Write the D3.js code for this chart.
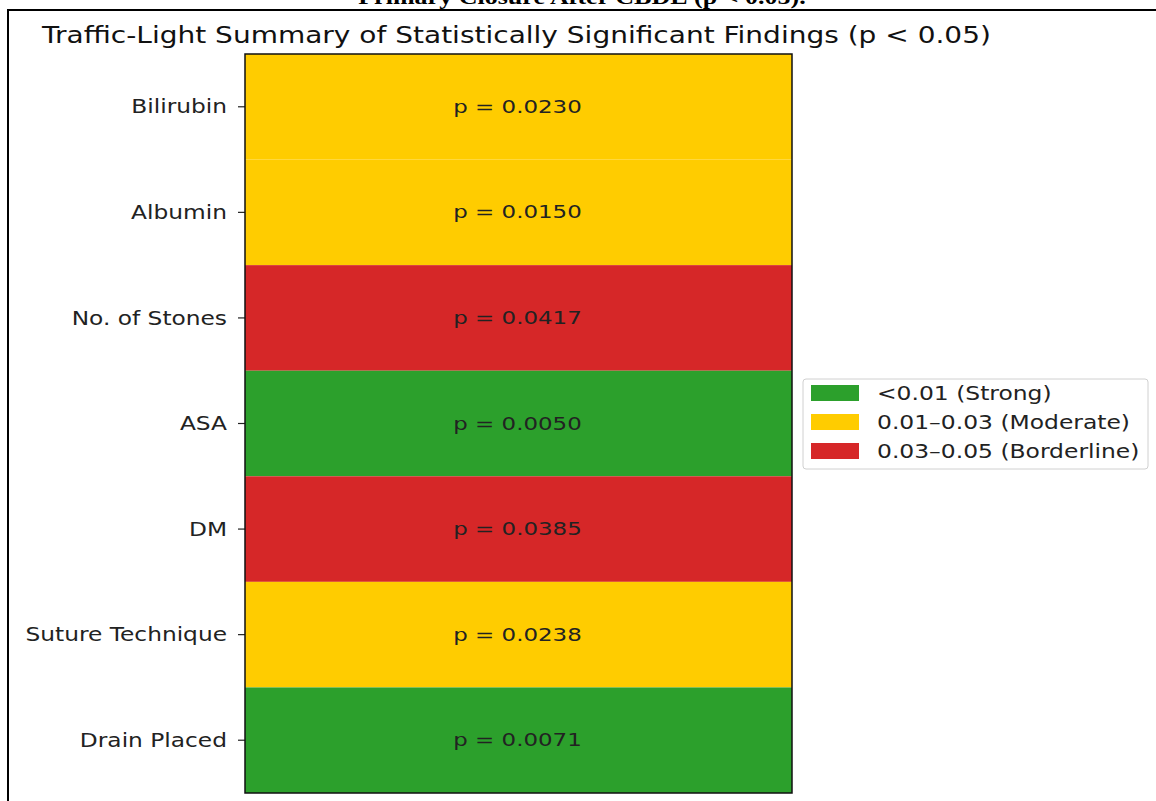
<html><head><style>
  body { margin: 0; background: #fff; }
  svg { display: block; }
</style>
</head><body>
<div id="chart"></div>
<script src="https://cdnjs.cloudflare.com/ajax/libs/d3/7.8.5/d3.min.js"></script>
<script>
// data, top to bottom
const findings = ["Bilirubin", "Albumin", "No. of Stones", "ASA", "DM", "Suture Technique", "Drain Placed"];
const pValues = [0.0230, 0.0150, 0.0417, 0.0050, 0.0385, 0.0238, 0.0071];

const bandLabels = ["<0.01 (Strong)", "0.01\u20130.03 (Moderate)", "0.03\u20130.05 (Borderline)"];
const bandLimits = [0.01, 0.03];
const bandColors = ["#2ca02c", "#ffcc00", "#d62728"];

const width = 1156, height = 801;
const margin = { top: 54, right: 364, bottom: 8, left: 245 };
// the source picture is stretched sideways, so glyphs are wider than tall
const SX = 1.24;
const FONT = "DejaVu Sans, sans-serif";

const svg = d3.select("#chart").append("svg")
  .attr("width", width)
  .attr("height", height);

// places a horizontally stretched text at (x, y)
function addText(parent, x, y, str, anchor, size, fill) {
  return parent.append("text")
    .attr("transform", `translate(${x},${y}) scale(${SX},1)`)
    .attr("text-anchor", anchor)
    .style("font-family", FONT)
    .style("font-size", size + "px")
    .style("fill", fill)
    .text(str);
}

// cut-off caption from the page above the figure
addText(svg, 582, 4, "Primary Closure After CBDE (p < 0.05).", "middle", 21, "#000")
  .style("font-family", "Liberation Serif, serif")
  .style("font-weight", "bold");

// figure frame
svg.append("path")
  .attr("d", `M8,${height} V10 H${width}`)
  .attr("fill", "none")
  .attr("stroke", "#000")
  .attr("stroke-width", 2);

const g = svg.append("g")
  .attr("transform", `translate(${margin.left},${margin.top})`);

const plotW = width - margin.left - margin.right;
const plotH = height - margin.top - margin.bottom;

const y = d3.scaleBand().domain(findings).range([0, plotH]);
const color = d3.scaleThreshold().domain(bandLimits).range(bandColors);

const rows = findings.map((f, i) => ({ name: f, p: pValues[i] }));

g.selectAll("rect.cell")
  .data(rows)
  .join("rect")
  .attr("class", "cell")
  .attr("x", 0)
  .attr("y", d => y(d.name))
  .attr("width", plotW)
  .attr("height", y.bandwidth())
  .attr("fill", d => color(d.p));

rows.forEach(d => {
  addText(g, plotW / 2 - 1, y(d.name) + y.bandwidth() / 2 + 6, "p = " + d.p.toFixed(4), "middle", 18.5, "#222");
});

// y axis
const yAxis = g.append("g")
  .call(d3.axisLeft(y).tickSize(7).tickPadding(10));
yAxis.select(".domain").remove();
yAxis.selectAll(".tick line").attr("stroke", "#222").attr("stroke-width", 1.2);
yAxis.selectAll(".tick text")
  .attr("x", null)
  .attr("dy", "0.35em")
  .attr("transform", `translate(-18,0) scale(${SX},1)`)
  .style("font-family", FONT)
  .style("font-size", "18.8px")
  .style("fill", "#222");

// axes frame
g.append("rect")
  .attr("width", plotW)
  .attr("height", plotH)
  .attr("fill", "none")
  .attr("stroke", "#111")
  .attr("stroke-width", 1.5);

// title
addText(g, plotW / 2 - 2, -11, "Traffic-Light Summary of Statistically Significant Findings (p < 0.05)", "middle", 22.6, "#111");

// legend
const legend = svg.append("g").attr("transform", "translate(803,379)");
legend.append("rect")
  .attr("width", 345)
  .attr("height", 90)
  .attr("rx", 3)
  .attr("fill", "#fff")
  .attr("stroke", "#d0d0d0");

bandLabels.forEach((lab, i) => {
  const yy = 14 + i * 29;
  legend.append("rect")
    .attr("x", 8)
    .attr("y", yy - 8)
    .attr("width", 48)
    .attr("height", 16)
    .attr("fill", bandColors[i]);
  addText(legend, 74, yy + 6.5, lab, "start", 18.9, "#222");
});
</script>
</body></html>
